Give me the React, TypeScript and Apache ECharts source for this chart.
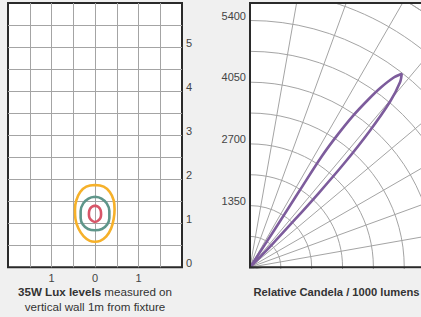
import React, { useEffect, useRef } from 'react';
import * as echarts from 'echarts';

// ---- data ----
const luxXTicks = [-1, 0, 1];
const luxYTicks = [0, 1, 2, 3, 4, 5];
const candelaTicks = [1350, 2700, 4050, 5400];

// iso-lux contours [x (m), y (m)]
const orangeContour: number[][] = [
  [0, 1.87], [0.2, 1.83], [0.34, 1.71], [0.43, 1.52], [0.45, 1.32], [0.43, 1.1],
  [0.37, 0.88], [0.26, 0.7], [0.12, 0.6], [0, 0.58], [-0.12, 0.6], [-0.26, 0.7],
  [-0.38, 0.88], [-0.45, 1.1], [-0.46, 1.32], [-0.43, 1.52], [-0.34, 1.71], [-0.2, 1.83], [0, 1.87],
];
const tealContour: number[][] = [
  [0, 1.6], [0.15, 1.56], [0.27, 1.45], [0.33, 1.28], [0.33, 1.12], [0.28, 0.97],
  [0.16, 0.87], [0, 0.84], [-0.16, 0.87], [-0.28, 0.97], [-0.33, 1.12], [-0.33, 1.28],
  [-0.27, 1.45], [-0.15, 1.56], [0, 1.6],
];
const redContour: number[][] = [
  [0, 1.4], [0.08, 1.37], [0.13, 1.29], [0.14, 1.2], [0.12, 1.11], [0.06, 1.05],
  [0, 1.03], [-0.06, 1.05], [-0.12, 1.11], [-0.14, 1.2], [-0.13, 1.29], [-0.08, 1.37], [0, 1.4],
];

// candela lobe: intensity and angle (deg from vertical)
const lobeCandela = [0, 1000, 2000, 2900, 3500, 4000, 4500, 4850, 5200, 5380, 5220, 4750, 3950, 3050, 2200, 1400, 700, 0];
const lobeAngle = [33.5, 33.2, 32.9, 32.9, 33.5, 34.2, 35.2, 36.0, 37.1, 38.1, 39.0, 40.2, 41.3, 42.2, 42.8, 43.3, 44.0, 45.0];

const FONT = "'Liberation Sans', Arial, sans-serif";
const GRID_GRAY = '#a4a4a4';
const BORDER = '#2a2a2a';
const BG = '#f0f0f0';
const TEXT = '#333';

export default function App() {
  const mainRef = useRef<HTMLDivElement>(null);
  const polarRef = useRef<HTMLDivElement>(null);

  useEffect(() => {
    const main = echarts.init(mainRef.current!, undefined, { renderer: 'svg' });
    const polar = echarts.init(polarRef.current!, undefined, { renderer: 'svg' });

    const lineSeries = (data: number[][], color: string) => ({
      type: 'line',
      xAxisIndex: 0,
      yAxisIndex: 0,
      data,
      smooth: 0.4,
      showSymbol: false,
      symbol: 'none',
      lineStyle: { color, width: 2.6 },
      z: 5,
    });

    const tickLabel = {
      color: '#444', fontSize: 11, fontFamily: FONT,
      verticalAlign: 'bottom', lineHeight: 9,
    };

    main.setOption({
      animation: false,
      backgroundColor: BG,
      grid: [
        { left: 8, top: 3, width: 174, height: 264.3, show: true, backgroundColor: '#fff', borderColor: BORDER, borderWidth: 2 },
        { left: 250, top: 20, width: 100, height: 247.3, show: false },
      ],
      xAxis: [
        {
          gridIndex: 0, type: 'value', min: -2, max: 2, interval: 0.5,
          axisLine: { show: false }, axisTick: { show: false },
          splitLine: { show: true, showMinLine: false, showMaxLine: false, lineStyle: { color: GRID_GRAY, width: 1 } },
          axisLabel: {
            formatter: (v: number) => (luxXTicks.includes(v) ? String(Math.abs(v)) : ''),
            color: '#444', fontSize: 11, fontFamily: FONT, margin: 5,
          },
        },
        { gridIndex: 1, type: 'value', min: 0, max: 1, show: false },
      ],
      yAxis: [
        {
          gridIndex: 0, type: 'value', position: 'right', min: 0, max: 6, interval: 0.5,
          axisLine: { show: false }, axisTick: { show: false },
          splitLine: { show: true, showMinLine: false, showMaxLine: false, lineStyle: { color: GRID_GRAY, width: 1 } },
          axisLabel: {
            ...tickLabel, margin: 4,
            formatter: (v: number) => (luxYTicks.includes(v) ? String(v) : ''),
          },
        },
        {
          gridIndex: 1, type: 'value', position: 'left', min: 0, max: 5400, interval: 1350,
          axisLine: { show: false }, axisTick: { show: false }, splitLine: { show: false },
          axisLabel: {
            ...tickLabel, margin: 4,
            formatter: (v: number) => (candelaTicks.includes(v) ? String(v) : ''),
          },
        },
      ],
      series: [
        lineSeries(orangeContour, '#f6b12a'),
        lineSeries(tealContour, '#5f968a'),
        lineSeries(redContour, '#d85668'),
      ],
      graphic: [
        {
          type: 'text', x: 95, y: 291.7, z: 10,
          style: {
            text: '{b|35W Lux levels} measured on',
            fontSize: 11.6, fontFamily: FONT, fill: TEXT,
            align: 'center', verticalAlign: 'middle',
            rich: { b: { fontSize: 11.6, fontFamily: FONT, fontWeight: 'bold', fill: TEXT } },
          },
        },
        {
          type: 'text', x: 95, y: 306.7, z: 10,
          style: {
            text: 'vertical wall 1m from fixture',
            fontSize: 11.6, fontFamily: FONT, fill: TEXT,
            align: 'center', verticalAlign: 'middle',
          },
        },
        {
          type: 'text', x: 336.5, y: 291.7, z: 10,
          style: {
            text: 'Relative Candela / 1000 lumens',
            fontSize: 11.2, fontFamily: FONT, fontWeight: 'bold', fill: TEXT,
            align: 'center', verticalAlign: 'middle',
          },
        },
      ],
    });

    polar.setOption({
      animation: false,
      polar: { center: [1, 265.3], radius: 308.5 },
      angleAxis: {
        type: 'value', min: 0, max: 360, interval: 10, startAngle: 90, clockwise: true,
        axisLine: { show: true, lineStyle: { color: GRID_GRAY, width: 1 } },
        axisTick: { show: false }, axisLabel: { show: false },
        splitLine: { show: true, lineStyle: { color: GRID_GRAY, width: 1 } },
      },
      radiusAxis: {
        type: 'value', min: 0, max: 6750, interval: 675,
        axisLine: { show: false }, axisTick: { show: false }, axisLabel: { show: false },
        splitLine: { show: true, lineStyle: { color: GRID_GRAY, width: 1 } },
      },
      series: [
        {
          type: 'line', coordinateSystem: 'polar',
          data: lobeCandela.map((c, i) => [c, lobeAngle[i]]),
          smooth: 0.3, showSymbol: false, symbol: 'none',
          lineStyle: { color: '#7d5c9c', width: 2.6 },
          z: 5,
        },
      ],
      graphic: [
        {
          type: 'rect', z: 100,
          shape: { x: 1, y: 1, width: 400, height: 264.3 },
          style: { fill: 'none', stroke: BORDER, lineWidth: 2 },
        },
      ],
    });

    return () => {
      main.dispose();
      polar.dispose();
    };
  }, []);

  return (
    <div style={{ position: 'fixed', left: 0, top: 0, width: 421, height: 317, background: BG, overflow: 'hidden' }}>
      <div ref={mainRef} style={{ position: 'absolute', left: 0, top: 0, width: 421, height: 317 }} />
      <div style={{ position: 'absolute', left: 249, top: 2, width: 172, height: 267, background: '#fff', overflow: 'hidden' }}>
        <div ref={polarRef} style={{ width: 172, height: 267 }} />
      </div>
    </div>
  );
}
